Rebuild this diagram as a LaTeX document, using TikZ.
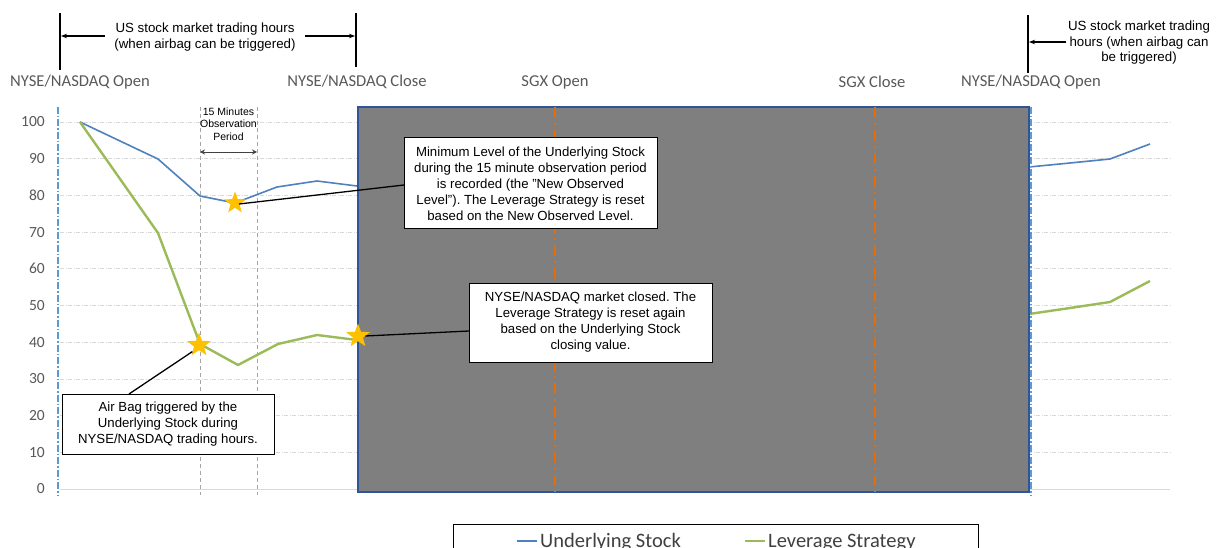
\documentclass[tikz,border=0pt]{standalone}
\usepackage{fontspec}
\setmainfont{Liberation Sans}
\newfontfamily\calib{Carlito}
\usetikzlibrary{shapes.geometric,arrows.meta}
\definecolor{stockblue}{RGB}{79,129,189}
\definecolor{levgreen}{RGB}{155,187,89}
\definecolor{stargold}{RGB}{255,192,0}
\definecolor{sgxorange}{RGB}{228,108,10}
\definecolor{rectgray}{RGB}{127,127,127}
\definecolor{rectblue}{RGB}{47,85,151}
\definecolor{axisblue}{RGB}{91,155,213}
\definecolor{gridgray}{RGB}{217,217,217}
\definecolor{labelgray}{RGB}{89,89,89}
\definecolor{legendtext}{RGB}{64,64,64}
\frenchspacing
\begin{document}
\begin{tikzpicture}[x=1pt,y=-1pt,
  grid/.style={gridgray, line width=0.8pt, dash pattern=on 4pt off 1.5pt on 1pt off 1.5pt},
  ticklabel/.style={anchor=east, inner sep=0pt, text=labelgray, font=\calib\fontsize{15.5}{18}\selectfont},
  toplabel/.style={inner sep=0pt, text=labelgray, font=\calib\fontsize{16.6}{19}\selectfont},
  axisline/.style={axisblue, line width=1.3pt, dash pattern=on 7pt off 2pt on 1.5pt off 2pt},
  obsline/.style={gray!70, line width=0.8pt, dash pattern=on 4pt off 3pt},
  sgxline/.style={sgxorange, line width=1.6pt, dash pattern=on 11pt off 5pt on 2pt off 5pt},
  stockline/.style={stockblue, line width=1.6pt, line join=round},
  levline/.style={levgreen, line width=2.4pt, line join=round},
  mark star/.style={star, star points=5, star point ratio=2.4, fill=stargold, draw=none, inner sep=0pt, minimum size=#1},
  callout/.style={draw=black, line width=1pt, fill=white, align=center, inner sep=3pt, font=\fontsize{13.2}{16}\selectfont},
  leader/.style={black, line width=1.3pt},
  markline/.style={black, line width=1.5pt},
  toptext/.style={align=center, inner sep=1pt, font=\fontsize{13.3}{15.5}\selectfont},
  toparrow/.style={black, line width=1.1pt, -{Stealth[length=6pt,width=4.5pt]}},
  legendlabel/.style={anchor=base west, inner sep=0pt, text=legendtext, font=\calib\fontsize{20.5}{22}\selectfont}
]
\useasboundingbox (0,0) rectangle (1218,548);
\fill[white] (0,0) rectangle (1218,548);

% grid lines
\foreach \v in {10,20,...,100}
  \draw[grid] (60,{489-3.67*\v}) -- (1170,{489-3.67*\v});
\draw[gridgray, line width=1pt] (60,489) -- (1170,489);
% tick labels
\foreach \v in {0,10,...,100}
  \node[ticklabel] (t\v) at (45,{489-3.67*\v}) {\v};

% vertical reference lines
\draw[axisline] (58,107) -- (58,495);
\draw[obsline] (200,107) -- (200,495);
\draw[obsline] (257,107) -- (257,495);

% data series (trading day)
\draw[stockline] (80,122) -- (158,159) -- (200,196) -- (235,203) -- (277,187) -- (317,181) -- (357,186);
\draw[levline] (80,122) -- (158,233) -- (200,344) -- (238,365) -- (278,344) -- (317,335) -- (357,340);
% next day
\draw[stockline] (1029,167) -- (1070,163) -- (1110,159) -- (1150,144);
\draw[levline] (1029,314) -- (1070,308) -- (1110,302) -- (1150,281);

% closed market rectangle
\draw[fill=rectgray, draw=rectblue, line width=1.8pt] (358,107) rectangle (1029,492);
\draw[axisline] (1031,107) -- (1031,495);
\draw[sgxline] (555,107) -- (555,492);
\draw[sgxline] (875,107) -- (875,492);

% top labels
\node[toplabel] (lOpen) at (80,82) {NYSE/NASDAQ Open};
\node[toplabel] (lClose) at (357,82) {NYSE/NASDAQ Close};
\node[toplabel] (lSgxO) at (555,82) {SGX Open};
\node[toplabel] (lSgxC) at (872,82) {SGX Close};
\node[toplabel] (lOpen2) at (1031,82) {NYSE/NASDAQ Open};

% observation period
\node[align=center, inner sep=0pt, font=\fontsize{10.5}{12.6}\selectfont] (obs) at (228.5,124) {15 Minutes\\Observation\\Period};
\coordinate (obsL) at (200,152);
\coordinate (obsR) at (257,152);
\draw[black!75, line width=0.8pt, {Stealth[length=5pt,width=5pt,open]}-{Stealth[length=5pt,width=5pt,open]}] (obsL) -- (obsR);

% top annotations
\coordinate (vl1t) at (60,13); \coordinate (vl1b) at (60,70);
\coordinate (vl2t) at (356,13); \coordinate (vl2b) at (356,67);
\coordinate (vl3t) at (1028,15); \coordinate (vl3b) at (1028,73);
\draw[markline] (vl1t) -- (vl1b);
\draw[markline] (vl2t) -- (vl2b);
\draw[markline] (vl3t) -- (vl3b);
\node[toptext] (us1) at (205,37) {US stock market trading hours\\(when airbag can be triggered)};
\coordinate (a1) at (61,36); \coordinate (a2) at (355,36);
\draw[toparrow] (105,36) -- (a1);
\draw[toparrow] (305,36) -- (a2);
\node[toptext] (us2) at (1139,43) {US stock market trading\\hours (when airbag can\\be triggered)};
\coordinate (a3) at (1029,42);
\draw[toparrow] (1066,42) -- (a3);

% stars
\node[mark star=23pt] (s1) at (235,203) {};
\node[mark star=25pt] (s2) at (199,345) {};
\node[mark star=25pt] (s3) at (358,336) {};

% callouts
\node[callout, minimum width=253pt, minimum height=91pt] (c1) at (530.5,183.5)
  {Minimum Level of the Underlying Stock\\during the 15 minute observation period\\is recorded (the "New Observed\\Level"). The Leverage Strategy is reset\\based on the New Observed Level.};
\node[callout, minimum width=243pt, minimum height=79pt] (c2) at (590.5,322.5)
  {NYSE/NASDAQ market closed. The\\Leverage Strategy is reset again\\based on the Underlying Stock\\closing value.};
\node[callout, minimum width=212pt, minimum height=60pt] (c3) at (168,424)
  {Air Bag triggered by the\\Underlying Stock during\\NYSE/NASDAQ trading hours.};
\coordinate (c1in) at (404,185);
\coordinate (c2in) at (469,331);
\coordinate (c3in) at (129,394);
\draw[leader] (s1.center) ++(4,1) -- (c1in);
\draw[leader] (s3.east) -- (c2in);
\draw[leader] (c3in) -- (s2.south west);

% legend
\begin{scope}
\clip (0,0) rectangle (1218,548);
\node[draw=black, line width=0.8pt, minimum width=525pt, minimum height=40pt, inner sep=0pt] (legend) at (715.5,544) {};
\draw[stockblue, line width=1.6pt] (517,541) -- (537,541);
\node[legendlabel] (legS) at (540,547) {Underlying Stock};
\draw[levgreen, line width=2.4pt] (745,541) -- (765,541);
\node[legendlabel] (legL) at (768,547) {Leverage Strategy};
\end{scope}
\end{tikzpicture}
\end{document}
